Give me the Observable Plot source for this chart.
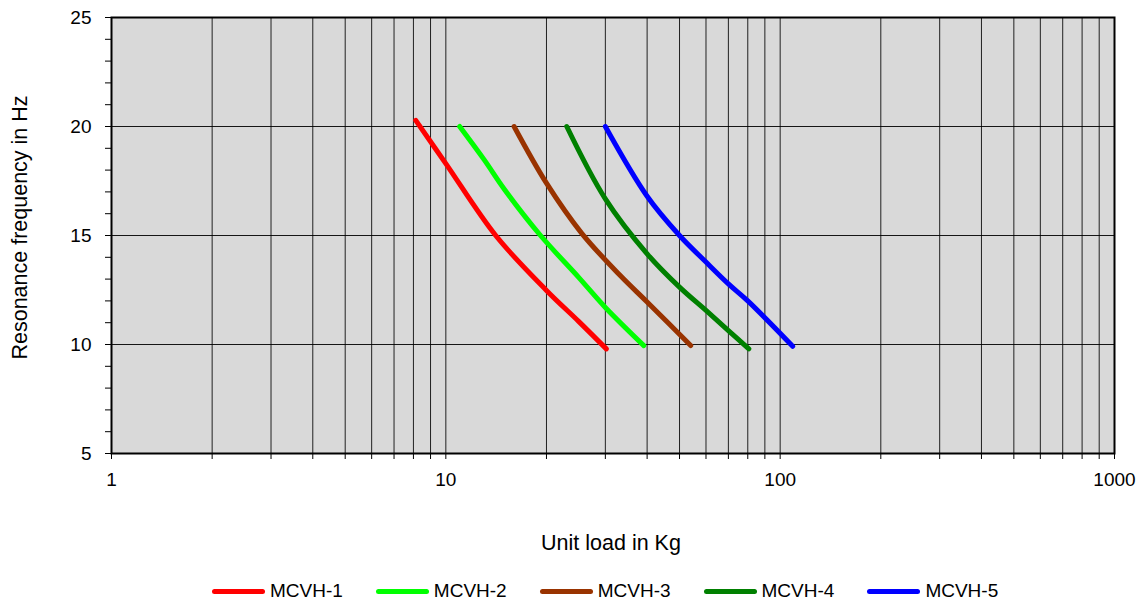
<!DOCTYPE html>
<html><head><meta charset="utf-8">
<script src="https://cdn.jsdelivr.net/npm/d3@7"></script>
<script src="https://cdn.jsdelivr.net/npm/@observablehq/plot@0.6"></script>
<style>
body{margin:0;background:#fff;font-family:"Liberation Sans",Arial,sans-serif;}
#legend{display:flex;padding-left:212px;margin-top:15px;font-size:19px;color:#000;line-height:22px;}
.item{display:flex;align-items:center;margin-right:33px;}
.sw{width:53px;height:5px;border-radius:3px;margin-right:5px;}
</style></head><body><div id="chart"></div><div id="legend"></div><script>
const series = ["MCVH-1","MCVH-2","MCVH-3","MCVH-4","MCVH-5"];
const colors = ["#ff0000","#00ff00","#993300","#008000","#0000ff"];
const load1 = [8.13, 10, 14.1, 20, 25, 30.2];
const freq1 = [20.28, 18.3, 15.0, 12.48, 11.05, 9.8];
const load2 = [11.0, 13, 15, 19.2, 25, 30, 39.1];
const freq2 = [20.0, 18.49, 17.1, 15.0, 13.07, 11.7, 9.95];
const load3 = [16.0, 20, 25.5, 33.3, 40, 54];
const freq3 = [20.0, 17.4, 15.1, 13.15, 11.95, 9.95];
const load4 = [23.0, 30, 40, 50, 60, 70, 80.6];
const freq4 = [20.0, 16.68, 14.16, 12.63, 11.56, 10.64, 9.8];
const load5 = [30.0, 40, 50, 60, 70, 80, 109];
const freq5 = [20.0, 16.8, 15.0, 13.78, 12.78, 12.0, 9.92];
const xTickValues = [1,2,3,4,5,6,7,8,9,10,20,30,40,50,60,70,80,90,100,200,300,400,500,600,700,800,900,1000];
const xTickLabels = [1,10,100,1000];
const yTickValues = d3.range(5,26);
const yTickLabels = [5,10,15,20,25];
const yGrid = [10,15,20];
const xTitle = "Unit load in Kg";
const yTitle = "Resonance frequency in Hz";

const loads = [load1,load2,load3,load4,load5];
const freqs = [freq1,freq2,freq3,freq4,freq5];
const data = [];
series.forEach((s,i)=>loads[i].forEach((x,j)=>data.push({series:s, load:x, freq:freqs[i][j]})));

const chart = Plot.plot({
  width: 1142, height: 565,
  marginLeft: 111, marginRight: 28, marginTop: 17, marginBottom: 112,
  style: {fontSize: "19px", fontFamily: "'Liberation Sans', Arial, sans-serif", color: "#000", background: "#fff"},
  x: {type: "log", domain: [1,1000]},
  y: {domain: [5,25]},
  color: {domain: series, range: colors},
  marks: [
    Plot.frame({fill: "#d9d9d9"}),
    Plot.gridX(xTickValues.filter(v=>v>1&&v<1000), {stroke: "#000", strokeOpacity: 0.85, strokeWidth: 1}),
    Plot.gridY(yGrid, {stroke: "#000", strokeOpacity: 0.9, strokeWidth: 1}),
    Plot.line(data, {x: "load", y: "freq", z: "series", stroke: "series", strokeWidth: 5, curve: "catmull-rom", strokeLinecap: "round"}),
    Plot.frame({stroke: "#000", strokeWidth: 2}),
    Plot.axisX(xTickValues, {tickSize: 6, tickPadding: 13, label: null, tickFormat: d => xTickLabels.includes(d) ? String(d) : ""}),
    Plot.axisY(yTickValues, {tickSize: 6, tickPadding: 14, label: null, tickFormat: d => yTickLabels.includes(d) ? String(d) : ""}),
    Plot.text([xTitle], {text: d => d, frameAnchor: "bottom", textAnchor: "middle", lineAnchor: "middle", dx: -2, dy: 90, fontSize: 21.5}),
    Plot.text([yTitle], {text: d => d, frameAnchor: "left", textAnchor: "middle", lineAnchor: "middle", rotate: -90, dx: -91, dy: -8, fontSize: 21.5})
  ]
});
document.getElementById("chart").appendChild(chart);
const lg = document.getElementById("legend");
series.forEach((s,i)=>{
  const it = document.createElement("div"); it.className="item";
  const sw = document.createElement("div"); sw.className="sw"; sw.style.background=colors[i];
  const t = document.createElement("span"); t.textContent=s;
  it.appendChild(sw); it.appendChild(t); lg.appendChild(it);
});
</script></body></html>
